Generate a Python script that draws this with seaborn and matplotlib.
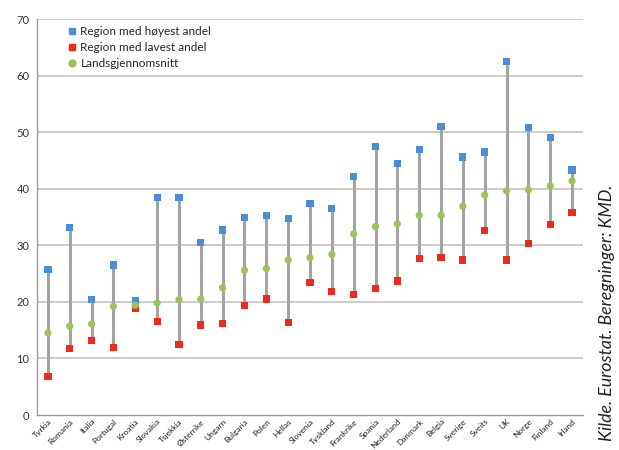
import numpy as np
import pandas as pd
import matplotlib
matplotlib.use("Agg")
import matplotlib.pyplot as plt
from matplotlib.lines import Line2D
import seaborn as sns

countries = ["Tyrkia", "Romania", "Italia", "Portugal", "Kroatia", "Slovakia", "Tsjekkia",
             "Østerrike", "Ungarn", "Bulgaria", "Polen", "Hellas", "Slovenia", "Tyskland",
             "Frankrike", "Spania", "Nederland", "Danmark", "Belgia", "Sverige", "Sveits",
             "UK", "Norge", "Finland", "Irland"]
high = [25.7, 33.1, 20.4, 26.5, 20.2, 38.5, 38.4, 30.5, 32.7, 34.9, 35.2, 34.7, 37.4, 36.5,
        42.2, 47.4, 44.5, 46.9, 51.0, 45.6, 46.5, 62.5, 50.8, 49.1, 43.3]
low = [6.8, 11.8, 13.1, 11.9, 18.8, 16.5, 12.4, 15.9, 16.2, 19.3, 20.5, 16.4, 23.4, 21.8,
       21.3, 22.4, 23.7, 27.7, 27.9, 27.4, 32.6, 27.4, 30.3, 33.7, 35.8]
avg = [14.5, 15.7, 16.1, 19.2, 19.4, 19.8, 20.4, 20.5, 22.5, 25.6, 25.9, 27.4, 27.8, 28.4,
       32.0, 33.3, 33.8, 35.3, 35.3, 36.9, 38.9, 39.6, 39.8, 40.5, 41.4]
series_labels = ["Region med høyest andel", "Region med lavest andel", "Landsgjennomsnitt"]
source_text = "Kilde. Eurostat. Beregninger: KMD."
yticks = [0, 10, 20, 30, 40, 50, 60, 70]

c_high = "#4a8fd6"
c_low = "#ee2a1c"
c_avg = "#9cc25a"

df = pd.DataFrame({"land": countries, "high": high, "low": low, "avg": avg})
df["pos"] = np.arange(len(df))
long = df.melt(id_vars=["land", "pos"], value_vars=["high", "low", "avg"],
               var_name="serie", value_name="verdi")

sns.set_theme(style="white")
plt.rcParams["font.family"] = ["Lato", "DejaVu Sans"]

fig = plt.figure(figsize=(6.19, 4.5), dpi=100)
ax = fig.add_axes([37 / 619, 35 / 450, 546 / 619, 396 / 450])

for y in yticks[1:]:
    ax.axhline(y, color="#c4c4c4", lw=1.2, zorder=0)

ax.vlines(df["pos"], df["low"], df["high"], color="#a3a3a3", lw=2.2, zorder=1)

sns.scatterplot(data=long, x="pos", y="verdi", hue="serie", style="serie",
                hue_order=["high", "low", "avg"],
                palette={"high": c_high, "low": c_low, "avg": c_avg},
                markers={"high": "s", "low": "s", "avg": "o"},
                s=27, edgecolor="none", legend=False, zorder=3, ax=ax)

ax.set_xlim(-0.5, len(df) - 0.5)
ax.set_ylim(0, 70)
ax.set_yticks(yticks)
ax.set_xticks(df["pos"])
ax.set_xticklabels(countries, rotation=45, ha="right", rotation_mode="anchor",
                   fontsize=6.0, color="#222222")
ax.set_xticks(np.arange(len(df) + 1) - 0.5, minor=True)
ax.tick_params(axis="x", which="major", length=0, pad=2)
ax.tick_params(axis="x", which="minor", length=4, color="#999999", width=0.8, direction="out")
ax.tick_params(axis="y", length=3.5, color="#999999", width=0.8, direction="out",
               labelsize=8, labelcolor="#333333", pad=2)
ax.set_xlabel("")
ax.set_ylabel("")
for s in ["top", "right"]:
    ax.spines[s].set_visible(False)
for s in ["left", "bottom"]:
    ax.spines[s].set_color("#999999")
    ax.spines[s].set_linewidth(1.0)

handles = [
    Line2D([], [], marker="s", ls="none", color=c_high, markersize=5),
    Line2D([], [], marker="s", ls="none", color=c_low, markersize=5),
    Line2D([], [], marker="o", ls="none", color=c_avg, markersize=5),
]
ax.legend(handles, series_labels, loc="upper left", bbox_to_anchor=(0.045, 0.995),
          frameon=False, fontsize=8.5, handletextpad=0.2, labelspacing=0.45,
          handlelength=1.0, borderaxespad=0)

fig.text(607 / 619, 1 - 313 / 450, source_text, rotation=90, ha="center", va="center",
         fontsize=12.8, style="italic", color="#222222")

fig.savefig("out.png", dpi=100)
